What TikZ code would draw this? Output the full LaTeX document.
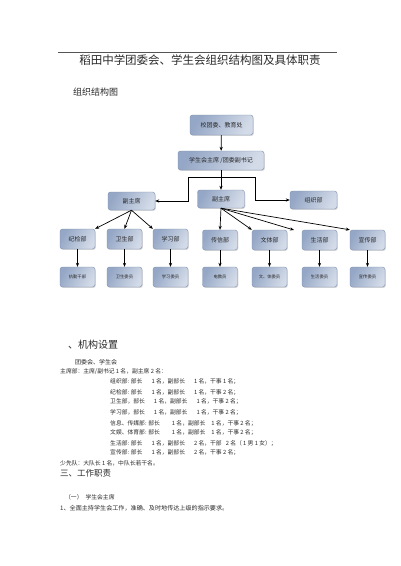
\documentclass[tikz,border=0pt]{standalone}
\usepackage{fontspec}
\setmainfont{Noto Sans CJK SC}
\usetikzlibrary{arrows.meta,shadows}
\definecolor{boxdark}{HTML}{95A7C6}
\definecolor{boxlight}{HTML}{D3DBE8}
\definecolor{boxline}{HTML}{7F90AE}
\definecolor{txt}{HTML}{2A2A2A}
\definecolor{rulec}{HTML}{555555}
\newcommand{\fs}[1]{\fontsize{#1}{#1}\selectfont}
\begin{document}
\begin{tikzpicture}[x=1pt,y=-1pt,
  orgbox/.style={draw=boxline, line width=0.4pt, rounded corners=2.5pt, left color=boxdark, right color=boxlight, shading angle=60, drop shadow={shadow xshift=0.8pt,shadow yshift=-0.9pt,opacity=0.3}, inner sep=0pt, text=txt},
  bigbox/.style={orgbox, minimum width=47pt, minimum height=18pt, font=\fs{6}},
  midbox/.style={orgbox, minimum width=35pt, minimum height=20pt, font=\fs{6}},
  smallbox/.style={orgbox, minimum width=35pt, minimum height=20pt, font=\fs{4.3}},
  conn/.style={line width=0.7pt, draw=black},
  arr/.style={conn, -{Stealth[length=4pt,width=3.2pt]}},
  txtline/.style={anchor=west, inner sep=0pt, font=\fs{5.8}, text=txt},
]
\useasboundingbox[fill=white] (0,0) rectangle (400,566);

% title
\draw[rulec, line width=0.5pt] (58,52) -- (337,52);
\node[inner sep=0pt, font=\fs{11.5}, text=txt] (title) at (200,60) {稻田中学团委会、学生会组织结构图及具体职责};
\node[anchor=west, inner sep=0pt, font=\fs{9}, text=txt] (sub) at (73,92) {组织结构图};

% chart
\node[orgbox, minimum width=63pt, minimum height=20pt, font=\fs{6}] (b1) at (221.5,125) {校团委、教育处};
\node[orgbox, minimum width=86pt, minimum height=19pt, font=\fs{6}] (b2) at (221,160.5) {学生会主席 /团委副书记};
\node[bigbox] (vpl) at (131.5,201) {副主席};
\node[bigbox] (vpm) at (221,199) {副主席};
\node[bigbox] (zz) at (313.5,200) {组织部};

\node[midbox] (jj) at (77.5,239) {纪检部};
\node[midbox] (ws) at (124.5,239) {卫生部};
\node[midbox] (xx) at (170.5,239) {学习部};
\node[midbox] (cx) at (220,240) {传信部};
\node[midbox] (wt) at (269.5,240) {文体部};
\node[midbox] (sh) at (319.5,240) {生活部};
\node[midbox] (xc) at (367.5,240) {宣传部};

\node[smallbox] (jj2) at (77.5,277) {执勤干部};
\node[smallbox] (ws2) at (124.5,277) {卫生委员};
\node[smallbox] (xx2) at (170.5,277) {学习委员};
\node[smallbox] (cx2) at (220,277) {电教员};
\node[smallbox] (wt2) at (269.5,277) {文、体委员};
\node[smallbox] (sh2) at (319.5,277) {生活委员};
\node[smallbox] (xc2) at (367.5,277) {宣传委员};

\coordinate (jl) at (188,177);
\coordinate (jr) at (255,177);
\coordinate (gap) at (294,230);

\draw[arr] (b1) -- (b2);
\draw[arr] (b2.south) -- (vpm.north);
\draw[conn] (jl) -- (jr);
\draw[arr] (jl) |- (vpl.east);
\draw[arr] (jr) |- (zz.west);

\draw[arr] (vpl.south) -- (jj.north east);
\draw[arr] (vpl.south) -- (ws.north);
\draw[arr] (vpl.south) -- (xx.north west);

\draw[arr] (vpm.south) -- (cx.north);
\draw[arr] (vpm.south) -- (wt.north west);
\draw[arr] (vpm.south) -- (gap);
\draw[arr] (vpm.south) -- (xc.north west);

\foreach \a in {jj,ws,xx,cx,wt,sh,xc}{
  \draw[arr] (\a.south) -- (\a2.north);
}

% text section
\node[anchor=west, inner sep=0pt, font=\fs{10}, text=txt] (h2) at (68,345) {、机构设置};
\node[txtline, font=\fs{6}] (t0) at (75,362) {团委会、学生会};
\node[txtline] (t1) at (60,372) {主席部：主席/副书记 1 名，副主席 2 名：};
\node[txtline] (t2) at (110,382) {组织部: 部长\hspace{9pt}1 名，副部长\hspace{9pt}1 名，干事 1 名；};
\node[txtline] (t3) at (110,393) {纪检部: 部长\hspace{9pt}1 名，副部长\hspace{9pt}1 名，干事 2 名；};
\node[txtline] (t4) at (110,402) {卫生部，部长\hspace{9pt}1 名，副部长\hspace{9pt}1 名，干事 2 名；};
\node[txtline] (t5) at (110,412) {学习部，部长\hspace{9pt}1 名，副部长\hspace{9pt}1 名，干事 2 名；};
\node[txtline] (t6) at (110,423) {信息、传媒部: 部长\hspace{12pt}1 名，副部长\hspace{6pt}1 名，干事 2 名；};
\node[txtline] (t7) at (110,433) {文娱、体育部: 部长\hspace{12pt}1 名，副部长\hspace{6pt}1 名，干事 2 名；};
\node[txtline] (t8) at (110,443) {生活部: 部长\hspace{9pt}1 名，副部长\hspace{9pt}2 名，干部\hspace{4pt}2 名（ 1 男 1 女）；};
\node[txtline] (t9) at (110,453) {宣传部: 部长\hspace{9pt}1 名，副部长\hspace{9pt}2 名，干事 2 名；};
\node[txtline] (t10) at (60,463) {少先队：大队长 1 名，中队长若干名。};
\node[anchor=west, inner sep=0pt, font=\fs{8.5}, text=txt] (h3) at (60,473) {三、工作职责};
\node[txtline] (t11) at (65,497) {（一）\hspace{3pt}学生会主席};
\node[txtline, font=\fs{6.1}] (t12) at (60,508) {1、全面主持学生会工作，准确、及时地传达上级的指示要求。};
\end{tikzpicture}
\end{document}
